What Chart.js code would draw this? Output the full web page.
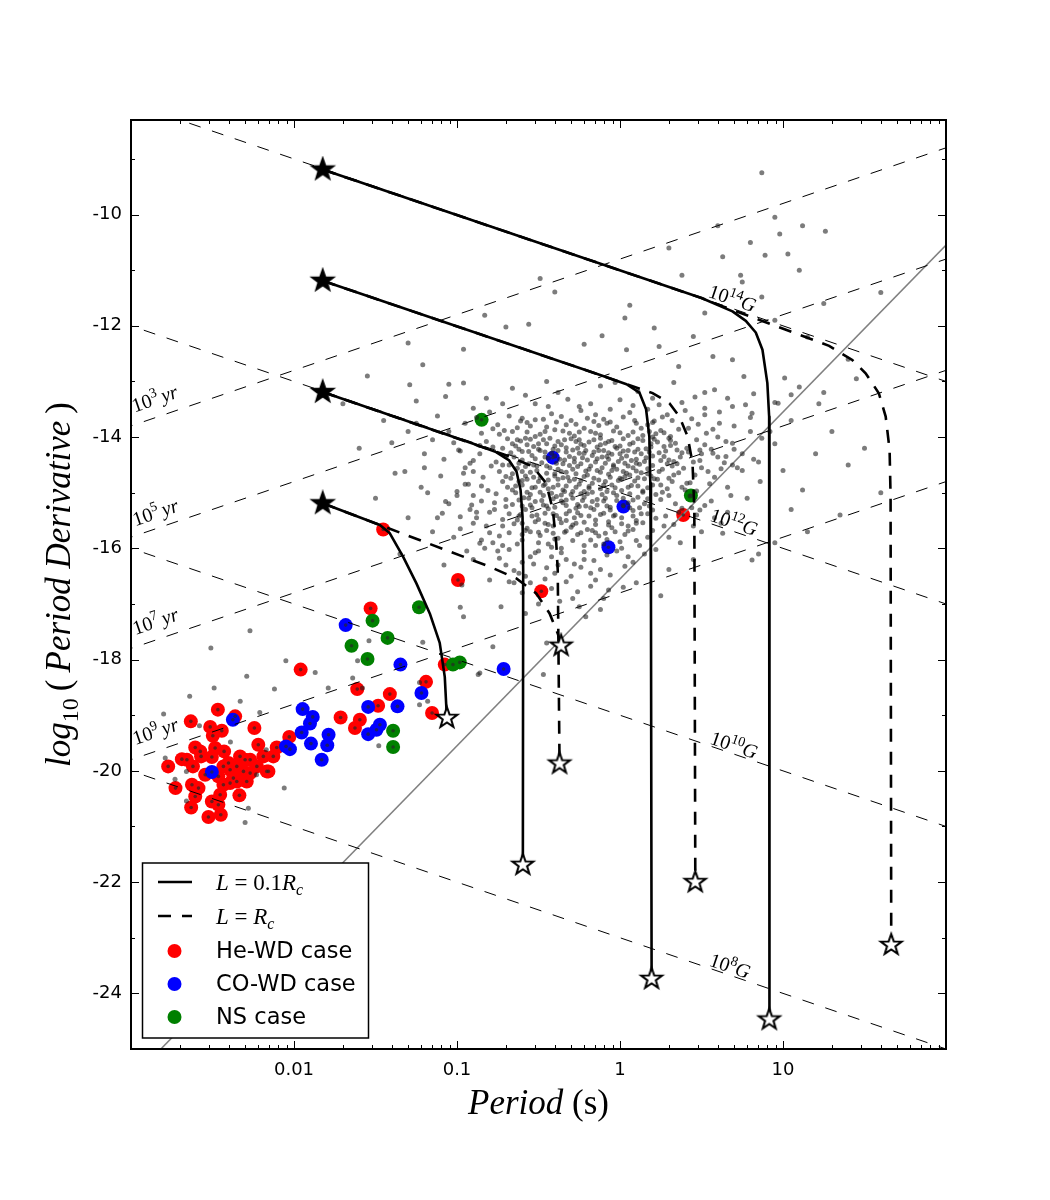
<!DOCTYPE html>
<html>
<head>
<meta charset="utf-8">
<script src="https://cdn.jsdelivr.net/npm/chart.js@4.4.1/dist/chart.umd.min.js"></script>
<style>
  html, body { margin: 0; padding: 0; background: #fff; }
  #wrap { width: 1050px; height: 1200px; }
</style>
</head>
<body>
<div id="wrap"><canvas id="ppdot" width="1050" height="1200"></canvas></div>
<script>
// every pair below is [log10 P (s), log10 Pdot]
const periodTicks = [0.01, 0.1, 1, 10];
const periodTickLabels = ['0.01', '0.1', '1', '10'];
const pdotTicks = [-24, -22, -20, -18, -16, -14, -12, -10];

const heWD = [
    [-1.959, -18.18], [-2.467, -18.90], [-2.361, -19.02], [-2.633, -19.11], [-2.514, -19.21], [-2.243, -19.23],
    [-2.443, -19.28], [-2.498, -19.37], [-2.029, -19.39], [-1.714, -19.04], [-2.606, -19.58], [-2.219, -19.53],
    [-2.429, -19.65], [-2.106, -19.58], [-2.127, -19.74], [-2.688, -19.79], [-2.570, -19.74], [-2.504, -19.75],
    [-2.331, -19.74], [-2.269, -19.80], [-2.772, -19.92], [-2.433, -19.92], [-2.392, -19.98], [-2.310, -20.01],
    [-2.228, -19.92], [-2.157, -20.01], [-2.620, -19.92], [-2.545, -20.07], [-2.464, -20.10], [-2.372, -20.13],
    [-2.290, -20.19], [-2.727, -20.31], [-2.626, -20.25], [-2.586, -20.31], [-2.606, -20.46], [-2.453, -20.43],
    [-2.335, -20.44], [-2.504, -20.55], [-2.464, -20.61], [-2.631, -20.66], [-2.525, -20.83], [-2.449, -20.79],
    [-2.392, -20.22], [-2.575, -19.65], [-2.484, -19.59], [-2.402, -19.86], [-2.351, -19.92], [-2.300, -19.80],
    [-2.269, -20.04], [-2.188, -19.74], [-2.167, -20.01], [-2.351, -20.19], [-2.433, -20.25], [-2.657, -19.80],
    [-1.453, -15.66], [-0.994, -16.57], [-1.530, -17.08], [-1.612, -18.53], [-1.412, -18.62], [-1.190, -18.40],
    [-1.484, -18.83], [-1.596, -19.08], [-1.626, -19.23], [-1.153, -18.96], [-1.075, -18.09], [-0.483, -16.77],
    [0.388, -15.40]
];
const coWD = [
    [-2.375, -19.08], [-2.504, -20.02], [-1.947, -18.89], [-1.885, -19.03], [-1.902, -19.15], [-1.953, -19.31],
    [-2.049, -19.56], [-2.025, -19.61], [-1.896, -19.51], [-1.788, -19.35], [-1.796, -19.54], [-1.830, -19.80],
    [-1.683, -17.38], [-1.347, -18.09], [-1.218, -18.60], [-1.545, -18.85], [-1.365, -18.84], [-1.473, -19.17],
    [-1.494, -19.26], [-1.545, -19.34], [-0.714, -18.17], [-0.412, -14.37], [0.021, -15.25], [-0.071, -15.98]
];
const nsCase = [
    [-1.233, -17.06], [-1.518, -17.30], [-1.426, -17.61], [-1.647, -17.75], [-1.549, -17.99], [-1.025, -18.09],
    [-0.983, -18.05], [-1.392, -19.28], [-1.392, -19.57], [-0.849, -13.69], [0.435, -15.05]
];

// observed pulsars (grey cloud)
const pulsars = [
    [0.87, -9.25], [0.95, -10.05], [1.26, -10.3], [0.89, -10.73], [1.03, -10.71], [0.63, -10.76], [0.38, -11.09],
    [0.74, -11.09], [0.75, -11.21], [0.87, -11.48], [-0.49, -11.15], [-0.4, -11.39], [0.06, -11.63], [0.03, -11.86],
    [0.21, -12.04], [0.52, -11.77], [-0.22, -12.33], [-0.11, -12.18], [-0.56, -11.97], [-0.7, -12.02], [-0.83, -11.81],
    [-0.96, -12.42], [-1.3, -12.31], [0.04, -12.43], [0.24, -12.37], [0.45, -12.19], [0.57, -12.55], [0.76, -12.91],
    [0.69, -12.61], [1.01, -12.94], [1.05, -13.24], [0.97, -13.39], [0.81, -13.57], [0.36, -12.73], [1.25, -11.6],
    [1.15, -12.2], [1.4, -12.6], [1.6, -11.4], [0.95, -11.9], [1.1, -11.0], [-1.21, -12.7], [-1.29, -13.06],
    [-1.07, -13.27], [-0.96, -13.03], [0.3, -10.6], [0.6, -10.2], [0.98, -10.35], [1.12, -10.2], [0.8, -10.5],
    [-1.05, -13.05], [-0.82, -13.3], [-0.66, -13.12], [-0.52, -13.4], [-0.38, -13.2], [-0.25, -13.45], [-0.12, -13.08],
    [0.0, -13.33], [0.11, -13.18], [0.24, -13.42], [0.33, -13.02], [0.46, -13.28], [0.58, -13.15], [0.69, -13.45],
    [0.82, -13.22], [0.95, -13.38], [1.1, -13.1], [-0.45, -13.0], [0.17, -13.5], [-0.9, -13.48], [0.52, -13.48],
    [-0.03, -13.02], [1.22, -13.4], [-1.25, -13.35],
    [-1.3, -13.9], [-1.12, -13.62], [-0.95, -13.75], [-0.8, -13.55], [-0.71, -13.88], [-0.6, -13.66], [-0.49, -13.95],
    [-0.42, -13.58], [-0.33, -13.78], [-0.24, -13.52], [-0.18, -13.9], [-0.1, -13.68], [-0.02, -13.82], [0.06, -13.56],
    [0.14, -13.97], [0.21, -13.71], [0.29, -13.6], [0.36, -13.86], [0.44, -13.67], [0.53, -13.93], [0.61, -13.55],
    [0.7, -13.8], [0.8, -13.65], [0.92, -13.9], [1.05, -13.7], [-0.55, -13.8], [-0.28, -13.98], [0.1, -13.75],
    [0.4, -13.52], [-0.85, -13.93], [0.25, -13.88], [-0.15, -13.6],
    [-1.2, -14.3], [-1.02, -14.1], [-0.9, -14.42], [-0.78, -14.18], [-0.7, -14.35], [-0.63, -14.05], [-0.56, -14.48],
    [-0.5, -14.22], [-0.44, -14.38], [-0.38, -14.08], [-0.33, -14.27], [-0.28, -14.45], [-0.22, -14.15], [-0.17, -14.33],
    [-0.12, -14.02], [-0.07, -14.4], [-0.02, -14.2], [0.03, -14.47], [0.08, -14.1], [0.13, -14.3], [0.19, -14.18],
    [0.25, -14.42], [0.31, -14.06], [0.38, -14.28], [0.45, -14.45], [0.52, -14.14], [0.6, -14.36], [0.7, -14.22],
    [0.82, -14.4], [0.95, -14.12], [-0.6, -14.26], [-0.25, -14.05], [-0.45, -14.12], [0.0, -14.3], [0.2, -14.0],
    [0.35, -14.48], [-0.1, -14.24], [-0.35, -14.48], [0.1, -14.4], [0.5, -14.3], [-0.15, -14.45], [0.28, -14.25],
    [-1.1, -14.7], [-0.95, -14.55], [-0.85, -14.88], [-0.74, -14.62], [-0.66, -14.95], [-0.58, -14.7], [-0.51, -14.52],
    [-0.46, -14.85], [-0.4, -14.66], [-0.34, -14.98], [-0.29, -14.58], [-0.24, -14.78], [-0.19, -14.92], [-0.14, -14.6],
    [-0.09, -14.8], [-0.04, -14.53], [0.01, -14.96], [0.06, -14.68], [0.11, -14.88], [0.17, -14.57], [0.23, -14.76],
    [0.29, -14.93], [0.36, -14.64], [0.43, -14.82], [0.5, -14.55], [0.58, -14.72], [0.66, -14.9], [0.75, -14.6],
    [0.86, -14.8], [-0.62, -14.8], [-0.2, -14.68], [0.15, -14.75], [-0.38, -14.76], [0.02, -14.62], [0.32, -14.52],
    [-0.52, -14.9], [-0.08, -14.98], [0.4, -14.95],
    [-1.05, -15.2], [-0.9, -15.05], [-0.8, -15.35], [-0.7, -15.12], [-0.62, -15.42], [-0.55, -15.22], [-0.47, -15.05],
    [-0.41, -15.38], [-0.35, -15.18], [-0.28, -15.45], [-0.22, -15.08], [-0.16, -15.3], [-0.1, -15.15], [-0.04, -15.42],
    [0.02, -15.1], [0.08, -15.32], [0.15, -15.2], [0.22, -15.46], [0.3, -15.05], [0.38, -15.28], [0.47, -15.4],
    [0.56, -15.15], [0.66, -15.35], [0.78, -15.1], [-0.5, -15.48], [-0.25, -15.25], [0.1, -15.5], [-0.72, -15.48],
    [-0.98, -15.65], [-0.85, -15.85], [-0.72, -15.6], [-0.63, -15.92], [-0.55, -15.7], [-0.46, -15.55], [-0.38, -15.82],
    [-0.3, -15.62], [-0.22, -15.95], [-0.15, -15.72], [-0.07, -15.58], [0.0, -15.88], [0.08, -15.66], [0.17, -15.8],
    [0.27, -15.6], [0.37, -15.9], [0.5, -15.7], [-0.42, -15.98], [-0.1, -15.92], [0.62, -15.55],
    [-0.6, -15.75], [-0.33, -15.5], [-0.18, -15.85], [0.05, -15.6], [-0.5, -15.9], [-0.26, -15.75], [0.12, -15.95],
    [-0.68, -15.72], [-0.03, -15.7], [0.3, -15.8],
    [-0.9, -16.2], [-0.75, -16.05], [-0.65, -16.4], [-0.55, -16.15], [-0.45, -16.35], [-0.36, -16.08], [-0.28, -16.28],
    [-0.18, -16.45], [-0.08, -16.12], [0.03, -16.32], [0.15, -16.1], [0.3, -16.38], [-0.6, -16.25], [0.45, -16.2],
    [-0.7, -16.3], [-0.5, -16.05], [-0.4, -16.45], [-0.22, -16.2], [-0.12, -16.38], [-0.02, -16.05], [0.08, -16.25],
    [-0.33, -16.2], [-0.58, -16.5],
    [-1.6, -14.2], [-1.45, -13.7], [-1.38, -14.65], [-1.5, -15.1], [-1.3, -15.45], [-1.22, -14.9], [-1.15, -15.7],
    [-1.35, -16.1], [-1.08, -16.3], [-1.09, -15.37], [-0.98, -15.43], [-0.91, -15.22], [-0.86, -15.91], [-1.7, -13.4],
    [-1.55, -12.9], [1.0, -14.6], [1.12, -14.95], [1.2, -14.3], [1.05, -15.3], [1.3, -13.9], [1.4, -14.5], [1.15, -15.7],
    [0.95, -15.9], [1.5, -14.2], [1.6, -15.0], [1.35, -15.4], [0.85, -16.1], [1.25, -13.2], [1.45, -12.95],
    [-0.99, -14.23], [-0.92, -14.47], [-1.32, -14.62], [-1.07, -15.16], [0.77, -13.42], [0.61, -13.75], [0.49, -14.23],
    [0.65, -14.35], [0.41, -14.83], [0.49, -15.31], [0.63, -15.73], [0.81, -16.21], [0.69, -14.11], [0.87, -14.02],
    [0.69, -14.5],
    [-0.68, -13.62], [-0.57, -13.74], [-0.47, -13.68], [-0.36, -13.63], [-0.27, -13.77], [-0.2, -13.66], [-0.06, -13.73],
    [0.02, -13.64], [0.17, -13.78], [0.32, -13.7], [0.48, -13.77], [-0.75, -13.78], [-0.13, -13.79], [0.26, -13.64],
    [-0.74, -13.95], [-0.63, -13.83], [-0.52, -13.99], [-0.4, -13.87], [-0.31, -13.93], [-0.22, -13.84], [-0.12, -13.96],
    [-0.04, -13.89], [0.05, -13.97], [0.13, -13.84], [0.22, -13.94], [0.31, -13.99], [0.42, -13.84], [0.57, -13.86],
    [-0.45, -13.82], [0.08, -13.91],
    [-0.82, -14.08], [-0.72, -14.2], [-0.66, -14.12], [-0.58, -14.02], [-0.53, -14.17], [-0.47, -14.05], [-0.41, -14.22],
    [-0.36, -14.14], [-0.3, -14.03], [-0.26, -14.2], [-0.19, -14.09], [-0.14, -14.18], [-0.09, -14.11], [-0.05, -14.06],
    [0.0, -14.16], [0.05, -14.24], [0.11, -14.03], [0.16, -14.21], [0.23, -14.09], [0.27, -14.17], [0.34, -14.11],
    [0.41, -14.2], [0.47, -14.05], [0.56, -14.22], [0.65, -14.08], [-0.49, -14.24], [-0.21, -14.24],
    [-0.86, -14.3], [-0.76, -14.45], [-0.67, -14.28], [-0.6, -14.41], [-0.54, -14.33], [-0.48, -14.46], [-0.42, -14.29],
    [-0.37, -14.4], [-0.31, -14.35], [-0.25, -14.29], [-0.2, -14.41], [-0.16, -14.27], [-0.11, -14.36], [-0.05, -14.31],
    [-0.01, -14.44], [0.04, -14.34], [0.09, -14.27], [0.15, -14.44], [0.2, -14.34], [0.24, -14.28], [0.3, -14.41],
    [0.37, -14.36], [0.42, -14.27], [0.49, -14.42], [0.57, -14.29], [0.64, -14.46], [-0.28, -14.38], [0.12, -14.49],
    [-0.72, -14.5],
    [-0.9, -14.62], [-0.79, -14.52], [-0.7, -14.71], [-0.63, -14.56], [-0.55, -14.63], [-0.49, -14.73], [-0.43, -14.55],
    [-0.36, -14.62], [-0.32, -14.72], [-0.26, -14.53], [-0.21, -14.61], [-0.16, -14.74], [-0.11, -14.55], [-0.07, -14.67],
    [-0.02, -14.58], [0.03, -14.71], [0.08, -14.55], [0.13, -14.64], [0.19, -14.7], [0.26, -14.58], [0.33, -14.68],
    [0.39, -14.56], [0.46, -14.68], [0.54, -14.62], [0.62, -14.57], [-0.58, -14.53], [-0.4, -14.7], [0.0, -14.74],
    [-0.93, -14.85], [-0.81, -14.96], [-0.72, -14.8], [-0.64, -14.88], [-0.57, -14.99], [-0.5, -14.8], [-0.44, -14.93],
    [-0.38, -14.86], [-0.31, -14.79], [-0.27, -14.9], [-0.22, -14.98], [-0.17, -14.83], [-0.12, -14.93], [-0.05, -14.86],
    [-0.01, -14.78], [0.05, -14.9], [0.09, -14.79], [0.14, -14.97], [0.2, -14.86], [0.26, -14.99], [0.32, -14.8],
    [0.38, -14.9], [0.47, -14.97], [0.55, -14.84], [-0.6, -14.78], [-0.35, -14.95],
    [-0.85, -15.15], [-0.76, -15.02], [-0.66, -15.21], [-0.59, -15.09], [-0.52, -15.16], [-0.45, -15.24], [-0.39, -15.07],
    [-0.33, -15.13], [-0.26, -15.21], [-0.2, -15.02], [-0.14, -15.12], [-0.08, -15.24], [-0.02, -15.05], [0.05, -15.18],
    [0.11, -15.08], [0.18, -15.24], [0.25, -15.12], [0.34, -15.2], [0.43, -15.06], [0.52, -15.23], [-0.7, -15.25],
    [-0.3, -15.03],
    [-0.88, -15.45], [-0.77, -15.3], [-0.68, -15.38], [-0.58, -15.3], [-0.51, -15.4], [-0.44, -15.29], [-0.37, -15.47],
    [-0.31, -15.33], [-0.24, -15.41], [-0.18, -15.27], [-0.12, -15.39], [-0.06, -15.31], [0.01, -15.45], [0.06, -15.27],
    [0.13, -15.38], [0.2, -15.31], [0.28, -15.42], [0.36, -15.35], [0.44, -15.27], [-0.63, -15.49], [-0.15, -15.49],
    [-0.82, -15.6], [-0.74, -15.78], [-0.65, -15.56], [-0.57, -15.64], [-0.49, -15.77], [-0.41, -15.6], [-0.34, -15.71],
    [-0.27, -15.55], [-0.2, -15.66], [-0.13, -15.78], [-0.05, -15.63], [0.03, -15.75], [0.1, -15.55], [0.2, -15.68],
    [0.33, -15.57], [-0.45, -15.68],
    [-0.78, -15.9], [-0.68, -16.02], [-0.6, -15.85], [-0.52, -16.08], [-0.44, -15.92], [-0.36, -16.0], [-0.29, -15.86],
    [-0.22, -16.06], [-0.15, -15.95], [-0.08, -15.84], [0.01, -16.0], [0.1, -15.86], [0.22, -16.02], [-0.4, -15.83],
    [-0.74, -16.18], [-0.62, -16.45], [-0.53, -16.28], [-0.46, -16.55], [-0.38, -16.3], [-0.3, -16.5], [-0.24, -16.34],
    [-0.16, -16.22], [-0.06, -16.48], [0.05, -16.15], [-0.42, -16.15], [-0.65, -16.62],
    [-1.05, -13.9], [-0.98, -14.25], [-1.15, -14.05], [-0.95, -14.85], [-1.2, -14.55], [-1.0, -15.05], [-1.12, -15.45],
    [-0.92, -15.3], [-1.25, -13.75], [-1.18, -15.0], [-0.88, -13.65], [-1.4, -14.1],
    [0.6, -14.0], [0.72, -14.55], [0.68, -15.05], [0.58, -15.45], [0.75, -14.3], [0.45, -15.6], [0.8, -13.9],
    [0.52, -13.6], [0.66, -13.3], [0.85, -14.45],
    [-0.61, -13.71], [-0.52, -13.69], [-0.39, -13.73], [-0.3, -13.7], [-0.16, -13.72], [-0.08, -13.75], [0.09, -13.7],
    [0.2, -13.74], [-0.66, -13.9], [-0.57, -13.91], [-0.46, -13.9], [-0.35, -13.89], [-0.25, -13.91], [-0.15, -13.93],
    [0.0, -13.92], [0.18, -13.9], [0.27, -13.92],
    [-0.69, -14.03], [-0.61, -14.07], [-0.55, -14.04], [-0.43, -14.02], [-0.34, -14.05], [-0.27, -14.08], [-0.16, -14.05],
    [-0.07, -14.08], [0.02, -14.03], [0.14, -14.06], [0.21, -14.04], [0.3, -14.02],
    [-0.64, -14.16], [-0.57, -14.14], [-0.5, -14.12], [-0.4, -14.16], [-0.33, -14.19], [-0.24, -14.13], [-0.12, -14.14],
    [-0.03, -14.17], [0.06, -14.13], [0.19, -14.12], [0.31, -14.15],
    [-0.62, -14.22], [-0.56, -14.26], [-0.46, -14.27], [-0.38, -14.24], [-0.29, -14.23], [-0.22, -14.29], [-0.13, -14.24],
    [-0.07, -14.28], [0.02, -14.25], [0.11, -14.22], [0.18, -14.27], [0.35, -14.23],
    [-0.65, -14.36], [-0.52, -14.39], [-0.46, -14.36], [-0.4, -14.34], [-0.34, -14.41], [-0.23, -14.37], [-0.14, -14.39],
    [-0.08, -14.35], [0.01, -14.38], [0.07, -14.42], [0.16, -14.37], [0.27, -14.35], [0.33, -14.44],
    [-0.68, -14.5], [-0.62, -14.47], [-0.53, -14.5], [-0.45, -14.52], [-0.39, -14.47], [-0.31, -14.51], [-0.24, -14.48],
    [-0.18, -14.52], [-0.09, -14.47], [-0.04, -14.5], [0.05, -14.52], [0.1, -14.47], [0.2, -14.51], [0.29, -14.48],
    [-0.66, -14.66], [-0.6, -14.62], [-0.51, -14.6], [-0.45, -14.65], [-0.38, -14.58], [-0.33, -14.63], [-0.27, -14.66],
    [-0.19, -14.58], [-0.12, -14.63], [-0.05, -14.6], [0.04, -14.65], [0.1, -14.61], [0.17, -14.66], [0.24, -14.62],
    [-0.67, -14.74], [-0.57, -14.76], [-0.53, -14.72], [-0.44, -14.77], [-0.35, -14.73], [-0.28, -14.76], [-0.22, -14.71],
    [-0.13, -14.77], [-0.06, -14.72], [0.01, -14.76], [0.11, -14.73], [0.21, -14.75], [0.3, -14.74],
    [-0.69, -14.9], [-0.6, -14.86], [-0.54, -14.91], [-0.47, -14.87], [-0.41, -14.9], [-0.33, -14.88], [-0.25, -14.85],
    [-0.19, -14.89], [-0.1, -14.86], [-0.03, -14.91], [0.07, -14.87], [0.17, -14.91], [0.25, -14.86],
    [-0.64, -15.0], [-0.55, -15.03], [-0.49, -14.99], [-0.42, -15.01], [-0.36, -15.04], [-0.29, -14.98], [-0.24, -15.02],
    [-0.17, -14.99], [-0.11, -15.03], [-0.04, -15.0], [0.06, -15.02], [0.14, -14.99], [0.22, -15.03],
    [-0.62, -15.13], [-0.56, -15.1], [-0.48, -15.14], [-0.41, -15.11], [-0.36, -15.15], [-0.29, -15.1], [-0.23, -15.14],
    [-0.17, -15.16], [-0.09, -15.1], [-0.02, -15.14], [0.08, -15.13], [0.17, -15.11],
    [-0.6, -15.24], [-0.54, -15.27], [-0.47, -15.22], [-0.4, -15.26], [-0.33, -15.23], [-0.27, -15.28], [-0.21, -15.24],
    [-0.14, -15.22], [-0.06, -15.26], [0.02, -15.23], [0.12, -15.27],
    [-0.61, -15.39], [-0.54, -15.42], [-0.46, -15.37], [-0.39, -15.41], [-0.33, -15.38], [-0.26, -15.36], [-0.19, -15.42],
    [-0.1, -15.37], [-0.03, -15.4], [0.08, -15.42], [0.17, -15.38],
    [-0.6, -15.55], [-0.52, -15.52], [-0.44, -15.57], [-0.36, -15.54], [-0.29, -15.58], [-0.22, -15.53], [-0.15, -15.57],
    [-0.07, -15.52], [0.01, -15.56], [0.14, -15.54],
    [-0.58, -15.68], [-0.5, -15.71], [-0.41, -15.73], [-0.33, -15.69], [-0.24, -15.72], [-0.17, -15.68], [-0.09, -15.73],
    [0.05, -15.69],
    [-1.08, -14.4], [-0.96, -14.65], [-0.84, -14.72], [-0.77, -15.18], [-0.9, -15.55], [-0.8, -15.72], [-1.02, -15.8],
    [-0.83, -16.0], [-0.72, -15.95], [-0.94, -16.05], [-0.86, -14.15], [-0.78, -13.85], [-1.0, -14.98], [-0.88, -15.35],
    [-0.55, -16.62], [-0.42, -16.72], [-0.33, -16.6], [-0.26, -16.78], [-0.18, -16.68], [-0.1, -16.9], [0.02, -16.7],
    [-0.37, -16.95], [-0.5, -17.0], [-0.25, -17.05], [-0.12, -17.1], [-0.6, -16.8],
    [-0.58, -13.25], [-0.44, -13.45], [-0.32, -13.32], [-0.18, -13.4], [-0.06, -13.5], [0.08, -13.43], [0.2, -13.3],
    [0.38, -13.38], [-0.72, -13.4], [0.52, -13.2],
    [-0.8, -16.57], [-0.68, -16.6], [-0.73, -17.05], [-0.58, -17.17], [-0.96, -17.23], [-0.78, -17.77], [-0.45, -17.7],
    [-0.86, -18.24], [-0.47, -18.27], [-0.29, -16.9], [-0.21, -17.23], [-0.07, -16.75], [-0.15, -16.57], [-0.97, -16.66],
    [-0.98, -17.06], [-1.21, -17.69], [-1.54, -17.66], [-1.61, -18.02], [-1.64, -18.33], [-1.58, -18.51],
    [-1.23, -18.41], [-1.18, -18.75], [-1.23, -18.81], [-1.48, -19.55], [-0.87, -18.27], [0.25, -16.85], [0.1, -16.62],
    [-2.27, -17.48], [-2.51, -17.79], [-2.05, -18.02], [-1.87, -18.23], [-2.29, -18.3], [-2.12, -18.53], [-2.49, -18.51],
    [-2.64, -18.66], [-1.79, -18.51], [-2.33, -18.75], [-2.8, -18.98], [-2.21, -18.95], [-2.58, -19.19], [-2.39, -19.48],
    [-2.79, -19.77], [-2.73, -20.15], [-2.66, -20.01], [-2.06, -20.31], [-2.66, -20.54], [-2.28, -20.67], [-2.3, -20.93],
    [-2.23, -20.07], [-2.17, -19.62]
];

// evolutionary tracks, L = 0.1 Rc (solid) and L = Rc (dashed)
const tracksSolid = [
    [[-1.824, -9.19], [0.5, -11.5], [0.69, -11.74], [0.772, -11.91], [0.833, -12.12], [0.874, -12.43], [0.904, -13.03], [0.915, -13.63], [0.918, -15.5], [0.916, -24.47]],
    [[-1.824, -11.19], [-0.126, -12.88], [0.04, -13.05], [0.119, -13.2], [0.16, -13.5], [0.18, -13.99], [0.186, -14.83], [0.19, -17.0], [0.194, -23.74]],
    [[-1.824, -13.19], [-0.9, -14.12], [-0.76, -14.27], [-0.68, -14.42], [-0.635, -14.62], [-0.61, -14.95], [-0.598, -15.43], [-0.594, -16.4], [-0.596, -21.69]],
    [[-1.824, -15.19], [-1.473, -15.58], [-1.412, -15.73], [-1.331, -16.15], [-1.249, -16.63], [-1.167, -17.17], [-1.106, -17.7], [-1.075, -18.31], [-1.062, -19.05]]
];
const tracksDashed = [
    [[-1.824, -9.19], [0.5, -11.5], [0.64, -11.66], [1.283, -12.36], [1.425, -12.614], [1.507, -12.853], [1.588, -13.212], [1.63, -13.632], [1.654, -14.231], [1.66, -15.07], [1.664, -23.13]],
    [[-1.824, -11.19], [-0.126, -12.88], [0.04, -13.05], [0.2, -13.21], [0.303, -13.39], [0.364, -13.63], [0.415, -13.99], [0.445, -14.47], [0.456, -15.31], [0.462, -22.0]],
    [[-1.824, -13.19], [-0.677, -14.35], [-0.535, -14.53], [-0.453, -14.83], [-0.412, -15.31], [-0.391, -15.91], [-0.382, -16.39], [-0.371, -19.87]],
    [[-1.824, -15.19], [-1.473, -15.58], [-0.8, -16.33], [-0.636, -16.54], [-0.514, -16.81], [-0.432, -17.17], [-0.382, -17.53], [-0.361, -17.75]]
];
const startStars = [[-1.824, -9.19], [-1.824, -11.19], [-1.824, -13.19], [-1.824, -15.19]];
const endStars = [[0.916, -24.47], [1.664, -23.13], [0.194, -23.74], [0.462, -22.0], [-0.596, -21.69], [-0.371, -19.87], [-1.062, -19.05], [-0.361, -17.75]];

// constant field lines (10^14, 10^12, 10^10, 10^8 G) and constant age lines (10^3 .. 10^9 yr)
const fieldExps = ['14', '12', '10', '8'];
const fieldLines = [[[-3.2, -7.8], [2.2, -13.2]], [[-3.2, -11.8], [2.2, -17.2]], [[-3.2, -15.8], [2.2, -21.2]], [[-3.2, -19.8], [2.2, -25.2]]];
const fieldLabelAt = [[0.69, -11.5], [0.70, -15.52], [0.70, -19.53], [0.676, -23.5]];
const ageExps = ['3', '5', '7', '9'];
const ageLines = [[[-3.2, -14.0], [2.2, -8.6]], [[-3.2, -16.0], [2.2, -10.6]], [[-3.2, -18.0], [2.2, -12.6]], [[-3.2, -20.0], [2.2, -14.6]]];
const ageLabelAt = [[-2.855, -13.3], [-2.851, -15.345], [-2.851, -17.3], [-2.851, -19.28]];
const deathLine = [[-2.9, -25.25], [2.1, -10.25]];

const legendNames = ['He-WD case', 'CO-WD case', 'NS case'];
const caseColors = ['#ff0000', '#0000ff', '#008000'];

const sans = '"DejaVu Sans", sans-serif';
const serif = '"Liberation Serif", "DejaVu Serif", serif';

const toXY = (arr) => arr.map(([lp, lpd]) => ({ x: Math.pow(10, lp), y: lpd }));

function makeStar(fill) {
    const c = document.createElement('canvas');
    c.width = 28;
    c.height = 28;
    const g = c.getContext('2d');
    g.beginPath();
    for (let i = 0; i < 10; i++) {
        const r = i % 2 === 0 ? 11 : 4.4;
        const a = -Math.PI / 2 + i * Math.PI / 5;
        g.lineTo(14 + r * Math.cos(a), 14 + r * Math.sin(a));
    }
    g.closePath();
    g.fillStyle = fill;
    g.fill();
    g.lineWidth = 2;
    g.strokeStyle = '#000';
    g.stroke();
    return c;
}

function lineSet(pts, opts) {
    return Object.assign({
        data: toXY(pts),
        showLine: true,
        pointRadius: 0,
        borderColor: '#000',
        borderWidth: 1,
        fill: false,
        tension: 0,
    }, opts);
}

// draws a run of [text, font, dy] pieces
function drawRich(ctx, segs, x, y, align) {
    let w = 0;
    segs.forEach((s) => { ctx.font = s[1]; w += ctx.measureText(s[0]).width; });
    let cx = align === 'left' ? x : x - w / 2;
    ctx.textAlign = 'left';
    ctx.textBaseline = 'alphabetic';
    segs.forEach((s) => {
        ctx.font = s[1];
        ctx.fillText(s[0], cx, y + (s[2] || 0));
        cx += ctx.measureText(s[0]).width;
    });
}

const datasets = [];
fieldLines.forEach((l) => datasets.push(lineSet(l, { borderDash: [12, 12], order: 8 })));
ageLines.forEach((l) => datasets.push(lineSet(l, { borderDash: [12, 12], order: 8 })));
datasets.push(lineSet(deathLine, { borderColor: '#808080', borderWidth: 1.5, order: 8 }));

[heWD, coWD, nsCase].forEach((arr, i) => {
    datasets.push({ data: toXY(arr), pointRadius: 7, pointBackgroundColor: caseColors[i], pointBorderWidth: 0, order: 12 - i });
});
datasets.push({ data: toXY(heWD.concat(coWD, nsCase)), pointRadius: 1.8, pointBackgroundColor: 'rgba(40,40,40,0.7)', pointBorderWidth: 0, order: 6 });
datasets.push({ data: toXY(pulsars), pointRadius: 2.5, pointBackgroundColor: 'rgba(30,30,30,0.58)', pointBorderWidth: 0, order: 6 });

tracksDashed.forEach((t) => datasets.push(lineSet(t, { borderWidth: 2.6, borderDash: [13, 10], borderCapStyle: 'butt', order: 4 })));
tracksSolid.forEach((t) => datasets.push(lineSet(t, { borderWidth: 2.6, borderJoinStyle: 'round', order: 3 })));

datasets.push({ data: toXY(startStars), pointStyle: makeStar('#000'), pointRadius: 11, order: 1 });
datasets.push({ data: toXY(endStars), pointStyle: makeStar('#fff'), pointRadius: 11, order: 0 });

const decor = {
    id: 'decor',
    afterDraw(chart) {
        const { ctx, chartArea: a, scales: { x, y } } = chart;
        ctx.save();
        ctx.fillStyle = '#000';

        // line labels, turned along their lines
        const dx = x.getPixelForValue(10) - x.getPixelForValue(1);
        const dy = y.getPixelForValue(-11) - y.getPixelForValue(-10);
        const ang = Math.atan2(dy, dx);
        fieldExps.forEach((e, i) => {
            const [lp, lpd] = fieldLabelAt[i];
            ctx.save();
            ctx.translate(x.getPixelForValue(Math.pow(10, lp)), y.getPixelForValue(lpd));
            ctx.rotate(ang);
            drawRich(ctx, [['10', '20px ' + serif], [e, '14px ' + serif, -8], ['G', 'italic 20px ' + serif]], 0, 7, 'center');
            ctx.restore();
        });
        ageExps.forEach((e, i) => {
            const [lp, lpd] = ageLabelAt[i];
            ctx.save();
            ctx.translate(x.getPixelForValue(Math.pow(10, lp)), y.getPixelForValue(lpd));
            ctx.rotate(-ang);
            drawRich(ctx, [['10', '20px ' + serif], [e, '14px ' + serif, -8], [' ', '14px ' + serif], ['yr', 'italic 20px ' + serif]], 0, 7, 'center');
            ctx.restore();
        });

        // frame and inward ticks
        ctx.strokeStyle = '#000';
        ctx.lineWidth = 1;
        ctx.beginPath();
        for (let k = -3; k <= 1; k++) {
            for (let m = 1; m <= 9; m++) {
                const v = m * Math.pow(10, k);
                const px = Math.round(x.getPixelForValue(v)) + 0.5;
                if (px <= a.left + 1 || px >= a.right - 1) continue;
                const len = m === 1 ? 8 : 4;
                ctx.moveTo(px, a.bottom); ctx.lineTo(px, a.bottom - len);
                ctx.moveTo(px, a.top); ctx.lineTo(px, a.top + len);
            }
        }
        for (let v = -24; v <= -9; v++) {
            const py = Math.round(y.getPixelForValue(v)) + 0.5;
            const len = v % 2 === 0 ? 8 : 4;
            ctx.moveTo(a.left, py); ctx.lineTo(a.left + len, py);
            ctx.moveTo(a.right, py); ctx.lineTo(a.right - len, py);
        }
        ctx.stroke();
        ctx.lineWidth = 2;
        ctx.strokeRect(a.left, a.top, a.right - a.left, a.bottom - a.top);

        // axis titles
        drawRich(ctx, [['Period', 'italic 35px ' + serif], [' (s)', '35px ' + serif]], (a.left + a.right) / 2, 1114, 'center');
        ctx.save();
        ctx.translate(58, (a.top + a.bottom) / 2);
        ctx.rotate(-Math.PI / 2);
        drawRich(ctx, [
            ['log', 'italic 35px ' + serif], ['10', '24px ' + serif, 8], ['\u2009(\u2009', '35px ' + serif],
            ['Period Derivative', 'italic 35px ' + serif], ['\u2009)', '35px ' + serif]
        ], 0, 12, 'center');
        ctx.restore();

        // legend box
        const bx = 142.5, by = 863, bw = 226, bh = 175;
        ctx.fillStyle = '#fff';
        ctx.fillRect(bx, by, bw, bh);
        ctx.lineWidth = 1.5;
        ctx.strokeRect(bx, by, bw, bh);
        ctx.fillStyle = '#000';
        ctx.strokeStyle = '#000';
        ctx.lineWidth = 2.6;
        ctx.beginPath(); ctx.moveTo(158, 882); ctx.lineTo(192, 882); ctx.stroke();
        ctx.setLineDash([13, 11]);
        ctx.beginPath(); ctx.moveTo(158, 916); ctx.lineTo(192, 916); ctx.stroke();
        ctx.setLineDash([]);
        drawRich(ctx, [['L', 'italic 23px ' + serif], [' = ', '23px ' + serif], ['0.1', '23px ' + serif], ['R', 'italic 23px ' + serif], ['c', 'italic 16px ' + serif, 5]], 216, 890, 'left');
        drawRich(ctx, [['L', 'italic 23px ' + serif], [' = ', '23px ' + serif], ['R', 'italic 23px ' + serif], ['c', 'italic 16px ' + serif, 5]], 216, 924, 'left');
        legendNames.forEach((name, i) => {
            const cy = 951 + i * 33;
            ctx.fillStyle = caseColors[i];
            ctx.beginPath(); ctx.arc(174.5, cy, 7, 0, Math.PI * 2); ctx.fill();
            ctx.fillStyle = '#000';
            ctx.font = '22.5px ' + sans;
            ctx.textAlign = 'left';
            ctx.textBaseline = 'middle';
            ctx.fillText(name, 216, cy + 1);
        });
        ctx.restore();
    }
};

Chart.defaults.font.family = sans;
Chart.defaults.font.size = 18;
Chart.defaults.color = '#000';

new Chart(document.getElementById('ppdot'), {
    type: 'scatter',
    data: { datasets },
    options: {
        responsive: false,
        devicePixelRatio: 1,
        animation: false,
        layout: { padding: { top: 120, right: 104, left: 0, bottom: 0 } },
        plugins: { legend: { display: false }, tooltip: { enabled: false } },
        scales: {
            x: {
                type: 'logarithmic',
                min: 0.001,
                max: 100,
                grid: { display: false, drawTicks: false },
                border: { display: false },
                ticks: {
                    autoSkip: false,
                    maxRotation: 0,
                    padding: 11,
                    callback: (v) => periodTickLabels[periodTicks.indexOf(v)],
                },
                afterBuildTicks: (s) => { s.ticks = periodTicks.map((v) => ({ value: v })); },
                afterFit: (s) => { s.height = 151; },
            },
            y: {
                min: -25,
                max: -8.3,
                grid: { display: false, drawTicks: false },
                border: { display: false },
                ticks: { padding: 9, callback: (v) => String(v) },
                afterBuildTicks: (s) => { s.ticks = pdotTicks.map((v) => ({ value: v })); },
                afterFit: (s) => { s.width = 131; },
            },
        },
    },
    plugins: [decor],
});
</script>
</body>
</html>
